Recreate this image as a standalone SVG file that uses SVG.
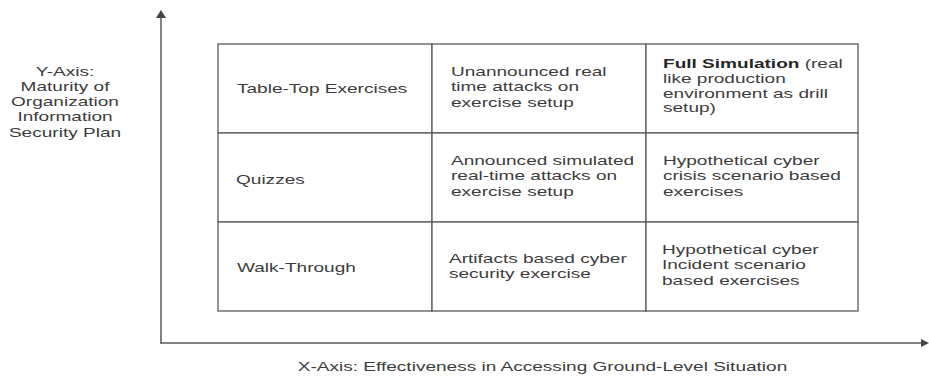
<svg xmlns="http://www.w3.org/2000/svg" width="929" height="381" viewBox="0 0 929 381">
<style>
.t{font-family:"Liberation Sans",Arial,sans-serif;font-size:13.5px;fill:#3c3c3c}
.b{font-weight:bold;fill:#262626}
.cell{fill:#fff;stroke:#5a5a5a;stroke-width:1.3}
.ax{stroke:#5a5a5a;stroke-width:1.5;fill:none}
.ah{fill:#444}
</style>
<rect width="929" height="381" fill="#fff"/>
<g id="connectors">
<line class="ax" x1="161" y1="16" x2="161" y2="343"/>
<polygon class="ah" points="161,10 156,18 166,18"/>
<line class="ax" x1="160" y1="343" x2="923" y2="343"/>
<polygon class="ah" points="929,343 921,339 921,347"/>
</g>
<g id="y-axis-label">
<text class="t" text-anchor="middle" transform="translate(65,76) scale(1.41,1)"><tspan x="0" y="0">Y-Axis:</tspan><tspan x="0" y="15">Maturity of</tspan><tspan x="0" y="30">Organization</tspan><tspan x="0" y="45.5">Information</tspan><tspan x="0" y="61">Security Plan</tspan></text>
</g>
<g id="x-axis-label">
<text class="t" text-anchor="middle" transform="translate(542.5,371) scale(1.41,1)">X-Axis: Effectiveness in Accessing Ground-Level Situation</text>
</g>
<g id="cell-tabletop">
<rect class="cell" x="218" y="44" width="214" height="89"/>
<text class="t" transform="translate(237,93) scale(1.41,1)">Table-Top Exercises</text>
</g>
<g id="cell-unannounced">
<rect class="cell" x="432" y="44" width="214" height="89"/>
<text class="t" transform="translate(451,76) scale(1.41,1)"><tspan x="0" y="0">Unannounced real</tspan><tspan x="0" y="15.5">time attacks on</tspan><tspan x="0" y="31">exercise setup</tspan></text>
</g>
<g id="cell-fullsim">
<rect class="cell" x="646" y="44" width="212" height="89"/>
<text class="t" transform="translate(663,68) scale(1.41,1)"><tspan x="0" y="0"><tspan class="b">Full Simulation</tspan> (real</tspan><tspan x="0" y="15">like production</tspan><tspan x="0" y="30">environment as drill</tspan><tspan x="0" y="44.5">setup)</tspan></text>
</g>
<g id="cell-quizzes">
<rect class="cell" x="218" y="133" width="214" height="89"/>
<text class="t" transform="translate(236,184) scale(1.41,1)">Quizzes</text>
</g>
<g id="cell-announced">
<rect class="cell" x="432" y="133" width="214" height="89"/>
<text class="t" transform="translate(451,165) scale(1.41,1)"><tspan x="0" y="0">Announced simulated</tspan><tspan x="0" y="15.5">real-time attacks on</tspan><tspan x="0" y="31">exercise setup</tspan></text>
</g>
<g id="cell-crisis">
<rect class="cell" x="646" y="133" width="212" height="89"/>
<text class="t" transform="translate(663,165) scale(1.41,1)"><tspan x="0" y="0">Hypothetical cyber</tspan><tspan x="0" y="15.5">crisis scenario based</tspan><tspan x="0" y="31">exercises</tspan></text>
</g>
<g id="cell-walkthrough">
<rect class="cell" x="218" y="222" width="214" height="89"/>
<text class="t" transform="translate(237,272) scale(1.41,1)">Walk-Through</text>
</g>
<g id="cell-artifacts">
<rect class="cell" x="432" y="222" width="214" height="89"/>
<text class="t" transform="translate(449,263) scale(1.41,1)"><tspan x="0" y="0">Artifacts based cyber</tspan><tspan x="0" y="15.5">security exercise</tspan></text>
</g>
<g id="cell-incident">
<rect class="cell" x="646" y="222" width="212" height="89"/>
<text class="t" transform="translate(662,254) scale(1.41,1)"><tspan x="0" y="0">Hypothetical cyber</tspan><tspan x="0" y="15">Incident scenario</tspan><tspan x="0" y="31">based exercises</tspan></text>
</g>
</svg>
